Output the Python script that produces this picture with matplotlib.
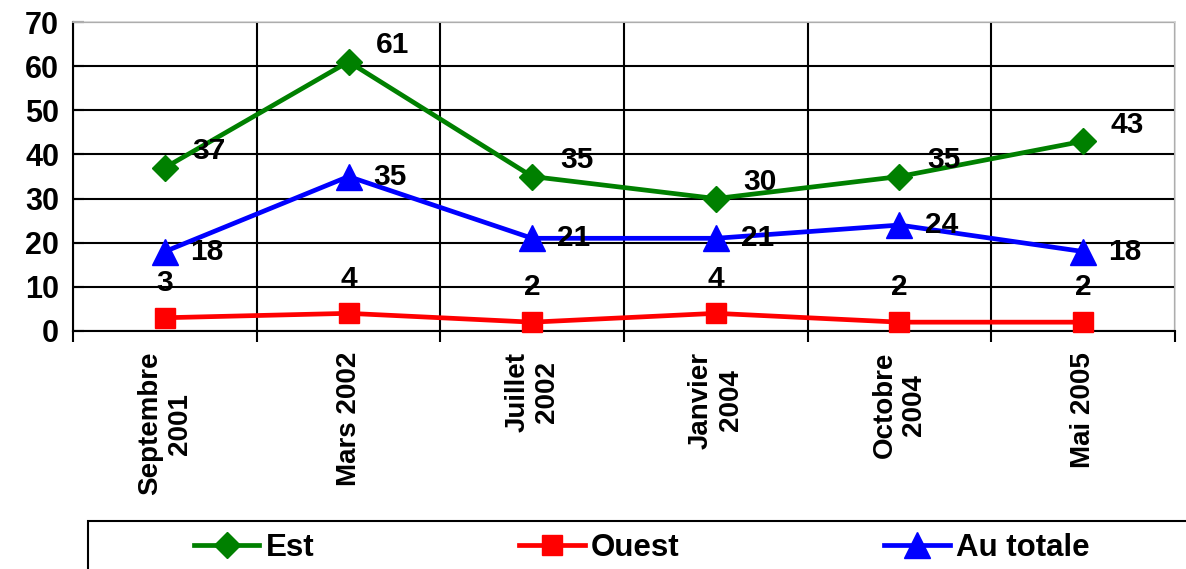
import matplotlib

matplotlib.use("Agg")
import matplotlib.pyplot as plt  # noqa: E402
from matplotlib.patches import Rectangle  # noqa: E402
from matplotlib.ticker import FixedLocator  # noqa: E402

plt.rcParams["font.family"] = ["Liberation Sans", "DejaVu Sans"]
plt.rcParams["font.weight"] = "bold"

categories = ["Septembre\n2001", "Mars 2002", "Juillet\n2002", "Janvier\n2004", "Octobre\n2004", "Mai 2005"]
est = [37, 61, 35, 30, 35, 43]
ouest = [3, 4, 2, 4, 2, 2]
total = [18, 35, 21, 21, 24, 18]
y_ticks = [0, 10, 20, 30, 40, 50, 60, 70]

series = [
    ("Est", est, "#008000", "D", 13, (32, 12)),
    ("Ouest", ouest, "#ff0000", "s", 14, (0, 25)),
    ("Au totale", total, "#0000ff", "^", 19, (30, 0)),
]

fig = plt.figure(figsize=(11.86, 5.69), dpi=100)
ax = fig.add_axes([0.0616, 0.4183, 0.9291, 0.5430])

x = list(range(len(categories)))
handles = []
for name, values, color, marker, ms, offset in series:
    (line,) = ax.plot(x, values, color=color, lw=3.4, marker=marker, markersize=ms,
                      markeredgecolor=color, label=name, zorder=3, clip_on=False)
    handles.append(line)
    for xi, v in zip(x, values):
        ax.annotate(str(v), (xi, v), xytext=offset, textcoords="offset points",
                    ha="center", va="center", fontsize=21.5, fontweight="bold", zorder=4)

ax.set_xlim(-0.5, len(categories) - 0.5)
ax.set_ylim(0, 70)
ax.set_yticks(y_ticks)
ax.set_xticks(x)
ax.set_xticklabels(categories, rotation=90, multialignment="center", fontsize=20, fontweight="bold")
ax.xaxis.set_minor_locator(FixedLocator([i - 0.5 for i in range(len(categories) + 1)]))
ax.tick_params(axis="x", which="major", length=0, pad=15)
ax.tick_params(axis="x", which="minor", length=8, width=1.5, direction="out", color="black")
ax.tick_params(axis="y", length=8, width=1.5, direction="in", labelsize=22, pad=10)
for lab in ax.get_yticklabels():
    lab.set_fontweight("bold")

ax.grid(axis="y", which="major", color="black", lw=1.5)
ax.grid(axis="x", which="minor", color="black", lw=1.5)
ax.set_axisbelow(True)

for side in ("left", "bottom"):
    ax.spines[side].set_color("black")
    ax.spines[side].set_linewidth(1.5)
for side in ("top", "right"):
    ax.spines[side].set_color("#d0d0d0")
    ax.spines[side].set_linewidth(1.2)

fig.patches.append(Rectangle((0.0742, -0.1), 1.0, 0.1844, transform=fig.transFigure,
                             fill=False, edgecolor="black", lw=1.5))
fig.legend(handles=handles, loc="center", bbox_to_anchor=(0.541, 0.037), ncol=3,
           frameon=False, handlelength=2.1, handletextpad=0.2,
           columnspacing=6.55, prop={"weight": "bold", "size": 22.5})

fig.savefig("out.png", dpi=100)
